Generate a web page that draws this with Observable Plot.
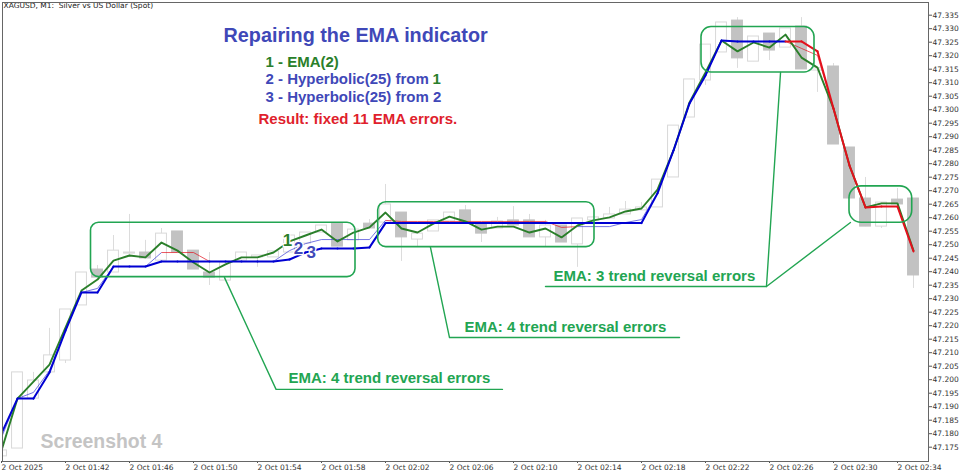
<!DOCTYPE html>
<html><head><meta charset="utf-8">
<script src="https://cdn.jsdelivr.net/npm/d3@7"></script>
<script src="https://cdn.jsdelivr.net/npm/@observablehq/plot@0.6"></script>
<style>html,body{margin:0;padding:0;background:#fff;overflow:hidden}svg{display:block}</style>
</head><body><div id="c"></div>
<script>
const open=[47.1716,47.1745,47.1930,47.2027,47.2071,47.2275,47.2408,47.2397,47.2467,47.2471,47.2441,47.2549,47.2478,47.2397,47.2367,47.2441,47.2453,47.2453,47.2471,47.2504,47.2545,47.2578,47.2516,47.2578,47.2582,47.2619,47.2519,47.2549,47.2586,47.2627,47.2578,47.2560,47.2590,47.2590,47.2527,47.2571,47.2501,47.2590,47.2597,47.2612,47.2627,47.2638,47.2749,47.2971,47.3108,47.3212,47.3330,47.3178,47.3282,47.3230,47.3308,47.3145,47.3160,47.2860,47.2671,47.2567,47.2667,47.2671];
const close=[47.1738,47.2027,47.1997,47.2090,47.2260,47.2397,47.2378,47.2478,47.2471,47.2449,47.2541,47.2471,47.2408,47.2378,47.2434,47.2471,47.2460,47.2475,47.2534,47.2545,47.2571,47.2493,47.2556,47.2560,47.2649,47.2527,47.2541,47.2590,47.2619,47.2582,47.2541,47.2586,47.2571,47.2527,47.2571,47.2508,47.2597,47.2601,47.2612,47.2630,47.2638,47.2741,47.2941,47.3112,47.3241,47.3323,47.3190,47.3271,47.3219,47.3301,47.3149,47.3153,47.2871,47.2671,47.2567,47.2656,47.2649,47.2386];
const high=[47.1738,47.2027,47.2027,47.2190,47.2260,47.2397,47.2423,47.2534,47.2612,47.2516,47.2560,47.2549,47.2478,47.2471,47.2434,47.2471,47.2460,47.2475,47.2534,47.2545,47.2571,47.2578,47.2556,47.2593,47.2723,47.2619,47.2541,47.2590,47.2619,47.2645,47.2578,47.2601,47.2641,47.2612,47.2590,47.2571,47.2597,47.2601,47.2638,47.2660,47.2656,47.2741,47.2941,47.3112,47.3241,47.3323,47.3341,47.3271,47.3282,47.3301,47.3341,47.3153,47.3171,47.2860,47.2749,47.2656,47.2708,47.2671];
const low=[47.1716,47.1745,47.1930,47.2027,47.2060,47.2275,47.2378,47.2397,47.2453,47.2449,47.2441,47.2471,47.2408,47.2349,47.2367,47.2441,47.2416,47.2453,47.2471,47.2504,47.2545,47.2493,47.2516,47.2560,47.2582,47.2438,47.2490,47.2549,47.2586,47.2582,47.2508,47.2560,47.2571,47.2527,47.2490,47.2508,47.2416,47.2590,47.2597,47.2612,47.2627,47.2638,47.2749,47.2971,47.3090,47.3212,47.3153,47.3178,47.3182,47.3230,47.3149,47.3064,47.2871,47.2671,47.2567,47.2560,47.2649,47.2338];
const ema=[47.1738,47.1930,47.1993,47.2056,47.2193,47.2330,47.2371,47.2441,47.2460,47.2453,47.2508,47.2478,47.2434,47.2397,47.2427,47.2453,47.2453,47.2471,47.2512,47.2534,47.2556,47.2512,47.2545,47.2564,47.2619,47.2560,47.2545,47.2578,47.2604,47.2586,47.2556,47.2567,47.2567,47.2545,47.2560,47.2527,47.2571,47.2590,47.2601,47.2623,47.2634,47.2704,47.2849,47.3027,47.3138,47.3256,47.3216,47.3249,47.3230,47.3278,47.3193,47.3156,47.3004,47.2793,47.2638,47.2653,47.2653,47.2478];
const hyper2=[47.1786,47.1930,47.1953,47.2034,47.2182,47.2323,47.2338,47.2419,47.2419,47.2419,47.2471,47.2471,47.2471,47.2438,47.2438,47.2438,47.2438,47.2438,47.2478,47.2504,47.2519,47.2519,47.2519,47.2519,47.2590,47.2586,47.2586,47.2586,47.2586,47.2586,47.2586,47.2586,47.2586,47.2586,47.2586,47.2564,47.2567,47.2567,47.2567,47.2582,47.2593,47.2693,47.2849,47.3023,47.3127,47.3256,47.3253,47.3253,47.3253,47.3253,47.3227,47.3201,47.3004,47.2793,47.2638,47.2653,47.2653,47.2475];
const hyper3=[47.1801,47.1930,47.1930,47.2027,47.2182,47.2323,47.2323,47.2419,47.2419,47.2419,47.2438,47.2438,47.2438,47.2438,47.2438,47.2438,47.2438,47.2438,47.2445,47.2471,47.2486,47.2486,47.2486,47.2490,47.2580,47.2580,47.2580,47.2580,47.2580,47.2580,47.2580,47.2580,47.2580,47.2580,47.2580,47.2580,47.2580,47.2580,47.2580,47.2580,47.2580,47.2690,47.2849,47.3023,47.3127,47.3256,47.3253,47.3253,47.3253,47.3253,47.3253,47.3216,47.3004,47.2793,47.2638,47.2641,47.2641,47.2475];
// minute index ranges drawn in the falling colour: [from, to]
const thinRed=[[10,13],[24,36],[49,57]];
const thickRed=[[49,57]];

const xTicks=[0,4,8,12,16,20,24,28,32,36,40,44,48,52,56];
const xLabels=["2 Oct 2025","2 Oct 01:42","2 Oct 01:46","2 Oct 01:50","2 Oct 01:54","2 Oct 01:58","2 Oct 02:02","2 Oct 02:06","2 Oct 02:10","2 Oct 02:14","2 Oct 02:18","2 Oct 02:22","2 Oct 02:26","2 Oct 02:30","2 Oct 02:34"];
const yTicks=[47.335,47.33,47.325,47.32,47.315,47.31,47.305,47.3,47.295,47.29,47.285,47.28,47.275,47.27,47.265,47.26,47.255,47.25,47.245,47.24,47.235,47.23,47.225,47.22,47.215,47.21,47.205,47.2,47.195,47.19,47.185,47.18,47.175];

const boxes=[
 {x1:5.594,x2:22.125,y1:47.2380,y2:47.2581,r:8},
 {x1:23.544,x2:37.0625,y1:47.2491,y2:47.2657,r:8},
 {x1:43.75,x2:50.8125,y1:47.3138,y2:47.3306,r:10},
 {x1:53,x2:56.92,y1:47.2581,y2:47.2716,r:12}
];
const leaders=[
 [[13.94,47.2378],[17.16,47.1964],[31.31,47.1964]],
 [[26.81,47.2490],[28,47.2156],[42.375,47.2156]],
 [[48.69,47.3138],[47.81,47.2345],[34,47.2345]],
 [[47.81,47.2345],[53.06,47.2582]]
];
const errorLabels=[
 {x:17.94,y:47.2004,t:"EMA: 4 trend reversal errors"},
 {x:28.94,y:47.2193,t:"EMA: 4 trend reversal errors"},
 {x:34.5,y:47.2382,t:"EMA: 3 trend reversal errors"}
];

const idx=open.map((_,i)=>i);
const candles=idx.map(i=>({i,o:open[i],c:close[i],h:high[i],l:low[i],up:close[i]>=open[i]}));
const BW=0.34;
const inR=(r,i)=>r.some(([a,b])=>i>=a&&i<b);
const segs=(s,r)=>idx.slice(0,-1).map(i=>({x1:i,x2:i+1,y1:s[i],y2:s[i+1],red:inR(r,i)}));
const BLUE="#0000d2",THIN="#3a3ad6",RED="#e3101c",GRN="#2a7f2a",ANN="#22a552",TITLE="#3f48b8";
const F="Liberation Sans, Arial, sans-serif";
const label=(t,x,y,o)=>Plot.text([t],{x:()=>x,y:()=>y,text:d=>d,fontFamily:F,fontWeight:"bold",textAnchor:"start",...o});

const plot=Plot.plot({
 width:960,height:473,marginLeft:2,marginRight:32,marginTop:2,marginBottom:12,
 style:{background:"#fff",fontFamily:"DejaVu Sans, sans-serif"},
 x:{type:"linear",domain:[0.0625,57.9375]},
 y:{type:"linear",domain:[47.1697,47.3397]},
 marks:[
  Plot.ruleX(candles,{x:"i",y1:"l",y2:"h",stroke:"#dcdcdc",strokeWidth:1,clip:true}),
  Plot.rect(candles,{x1:d=>d.i-BW,x2:d=>d.i+BW,y1:d=>Math.min(d.o,d.c),y2:d=>Math.max(d.o,d.c),
    fill:d=>d.up?"#fff":"#c2c2c2",stroke:d=>d.up?"#d8d8d8":"#c2c2c2",strokeWidth:1,clip:true}),
  Plot.link(segs(hyper2,thinRed),{x1:"x1",x2:"x2",y1:"y1",y2:"y2",stroke:d=>d.red?RED:THIN,strokeWidth:0.7,clip:true}),
  Plot.line(idx,{x:i=>i,y:i=>ema[i],stroke:GRN,strokeWidth:1.9,clip:true}),
  Plot.link(segs(hyper3,thickRed),{x1:"x1",x2:"x2",y1:"y1",y2:"y2",stroke:d=>d.red?RED:BLUE,strokeWidth:2,strokeLinecap:"round",clip:true}),
  ...boxes.map(b=>Plot.rect([b],{x1:"x1",x2:"x2",y1:"y1",y2:"y2",rx:b.r,fill:"none",stroke:ANN,strokeWidth:1.6})),
  ...leaders.map(l=>Plot.line(l,{x:d=>d[0],y:d=>d[1],stroke:ANN,strokeWidth:1.4})),
  Plot.text(errorLabels,{x:"x",y:"y",text:"t",fill:ANN,fontFamily:F,fontWeight:"bold",fontSize:15,textAnchor:"start"}),
  label("Repairing the EMA indicator",22.13,47.3275,{textAnchor:"middle",fontSize:19.8,fill:TITLE}),
  label("1 - EMA(2)",16.5,47.3175,{fontSize:15,fill:GRN}),
  label("2 - Hyperbolic(25) from",16.5,47.3112,{fontSize:15,fill:TITLE}),
  label("1",26.94,47.3112,{fontSize:15,fill:GRN}),
  label("3 - Hyperbolic(25) from 2",16.5,47.3045,{fontSize:15,fill:TITLE}),
  label("Result: fixed 11 EMA errors.",16.06,47.2964,{fontSize:15,fill:"#e01f2d"}),
  label("Screenshot 4",2.44,47.1771,{fontSize:19.4,fill:"#c4c4c4"}),
  label("1",17.875,47.2516,{textAnchor:"middle",fontSize:17,fill:GRN,stroke:"#fff",strokeWidth:2.5,paintOrder:"stroke"}),
  label("2",18.56,47.2486,{textAnchor:"middle",fontSize:17,fill:TITLE,stroke:"#fff",strokeWidth:2.5,paintOrder:"stroke"}),
  label("3",19.36,47.2471,{textAnchor:"middle",fontSize:17,fill:TITLE,stroke:"#fff",strokeWidth:2.5,paintOrder:"stroke"}),
  label("XAGUSD, M1:  Silver vs US Dollar (Spot)",0.125,47.3384,{fontFamily:"DejaVu Sans, sans-serif",fontWeight:"normal",fontSize:7.5,fill:"#222"}),
  Plot.axisY({anchor:"right",ticks:yTicks,tickFormat:d=>d.toFixed(3),tickSize:3,tickPadding:1,fontSize:7.5,stroke:"#555",color:"#333",label:null}),
  Plot.axisX({anchor:"bottom",ticks:xTicks,tickFormat:d=>xLabels[xTicks.indexOf(d)],tickSize:2,tickPadding:1,fontSize:7.5,textAnchor:"start",stroke:"#555",color:"#333",label:null}),
  Plot.frame({stroke:"#666",strokeWidth:1})
 ]
});
document.getElementById("c").append(plot);
</script></body></html>
